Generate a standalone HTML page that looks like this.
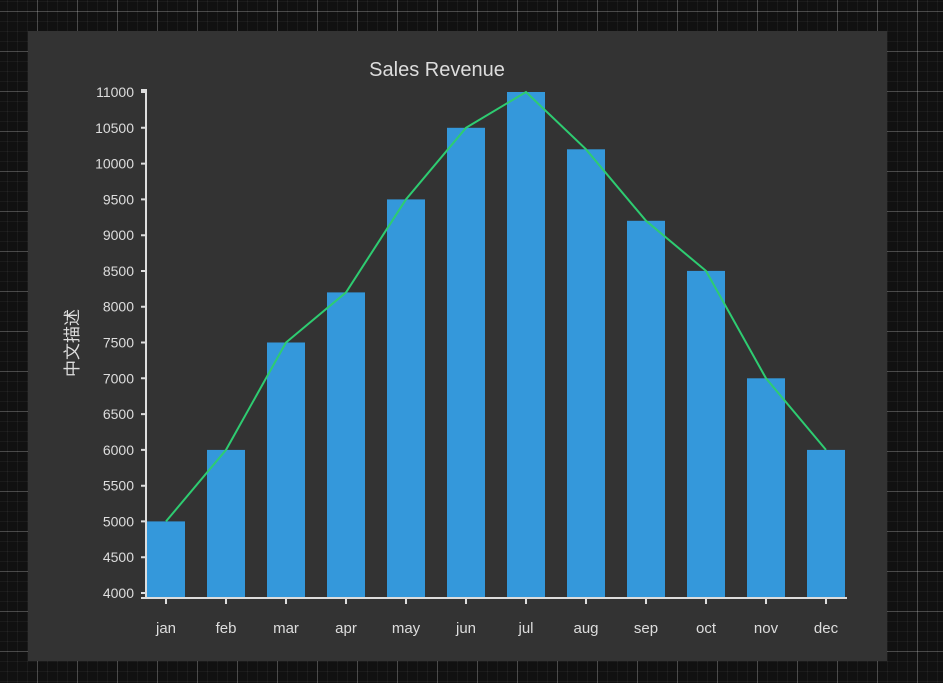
<!DOCTYPE html>
<html><head><meta charset="utf-8"><style>
html,body{margin:0;padding:0;}
body{width:943px;height:683px;overflow:hidden;background-color:#111;
background-image:
linear-gradient(to right, rgba(255,255,255,0.2) 1px, transparent 1px),
linear-gradient(to bottom, rgba(255,255,255,0.2) 1px, transparent 1px),
linear-gradient(to right, rgba(255,255,255,0.045) 1px, transparent 1px),
linear-gradient(to bottom, rgba(255,255,255,0.045) 1px, transparent 1px);
background-size:40px 40px,40px 40px,10px 10px,10px 10px;
background-position:37px 0,0 11px,7px 0,0 1px;}
svg{position:absolute;left:0;top:0;}
text{font-family:"Liberation Sans","Noto Sans CJK SC",sans-serif;fill:#ddd;}
</style></head><body>
<svg width="943" height="683" xmlns="http://www.w3.org/2000/svg">
<rect x="28" y="31" width="859" height="630" fill="#333"/>
<text x="437" y="76" font-size="20" text-anchor="middle">Sales Revenue</text>
<text transform="translate(78,343) rotate(-90)" font-size="17" text-anchor="middle" font-family="'Noto Sans CJK SC',sans-serif">中文描述</text>
<g fill="#3498db">
<rect x="147" y="521.4" width="38" height="76.6"/>
<rect x="207" y="449.9" width="38" height="148.1"/>
<rect x="267" y="342.5" width="38" height="255.5"/>
<rect x="327" y="292.4" width="38" height="305.6"/>
<rect x="387" y="199.4" width="38" height="398.6"/>
<rect x="447" y="127.8" width="38" height="470.2"/>
<rect x="507" y="92" width="38" height="506"/>
<rect x="567" y="149.3" width="38" height="448.7"/>
<rect x="627" y="220.8" width="38" height="377.2"/>
<rect x="687" y="270.9" width="38" height="327.1"/>
<rect x="747" y="378.3" width="38" height="219.7"/>
<rect x="807" y="449.9" width="38" height="148.1"/>
</g>
<polyline fill="none" stroke="#2ecc71" stroke-width="2" points="166,521.4 226,449.9 286,342.5 346,292.4 406,199.4 466,127.8 526,92 586,149.3 646,220.8 706,270.9 766,378.3 826,449.9"/>
<g stroke="#ddd" stroke-width="2" fill="none">
<path d="M141,90 H146 V598 H141"/>
<path d="M146,598 H847"/>
<path d="M141,92H146M141,127.8H146M141,163.6H146M141,199.4H146M141,235.2H146M141,271H146M141,306.7H146M141,342.5H146M141,378.3H146M141,414.1H146M141,449.9H146M141,485.7H146M141,521.4H146M141,557.2H146M141,593H146"/>
<path d="M166,598v6M226,598v6M286,598v6M346,598v6M406,598v6M466,598v6M526,598v6M586,598v6M646,598v6M706,598v6M766,598v6M826,598v6"/>
</g>
<g font-size="14" text-anchor="end">
<text x="134" y="97">11000</text><text x="134" y="132.8">10500</text><text x="134" y="168.6">10000</text>
<text x="134" y="204.4">9500</text><text x="134" y="240.2">9000</text><text x="134" y="276">8500</text>
<text x="134" y="311.7">8000</text><text x="134" y="347.5">7500</text><text x="134" y="383.3">7000</text>
<text x="134" y="419.1">6500</text><text x="134" y="454.9">6000</text><text x="134" y="490.7">5500</text>
<text x="134" y="526.4">5000</text><text x="134" y="562.2">4500</text><text x="134" y="598">4000</text>
</g>
<g font-size="15" text-anchor="middle">
<text x="166" y="633">jan</text><text x="226" y="633">feb</text><text x="286" y="633">mar</text>
<text x="346" y="633">apr</text><text x="406" y="633">may</text><text x="466" y="633">jun</text>
<text x="526" y="633">jul</text><text x="586" y="633">aug</text><text x="646" y="633">sep</text>
<text x="706" y="633">oct</text><text x="766" y="633">nov</text><text x="826" y="633">dec</text>
</g>
</svg>
</body></html>
